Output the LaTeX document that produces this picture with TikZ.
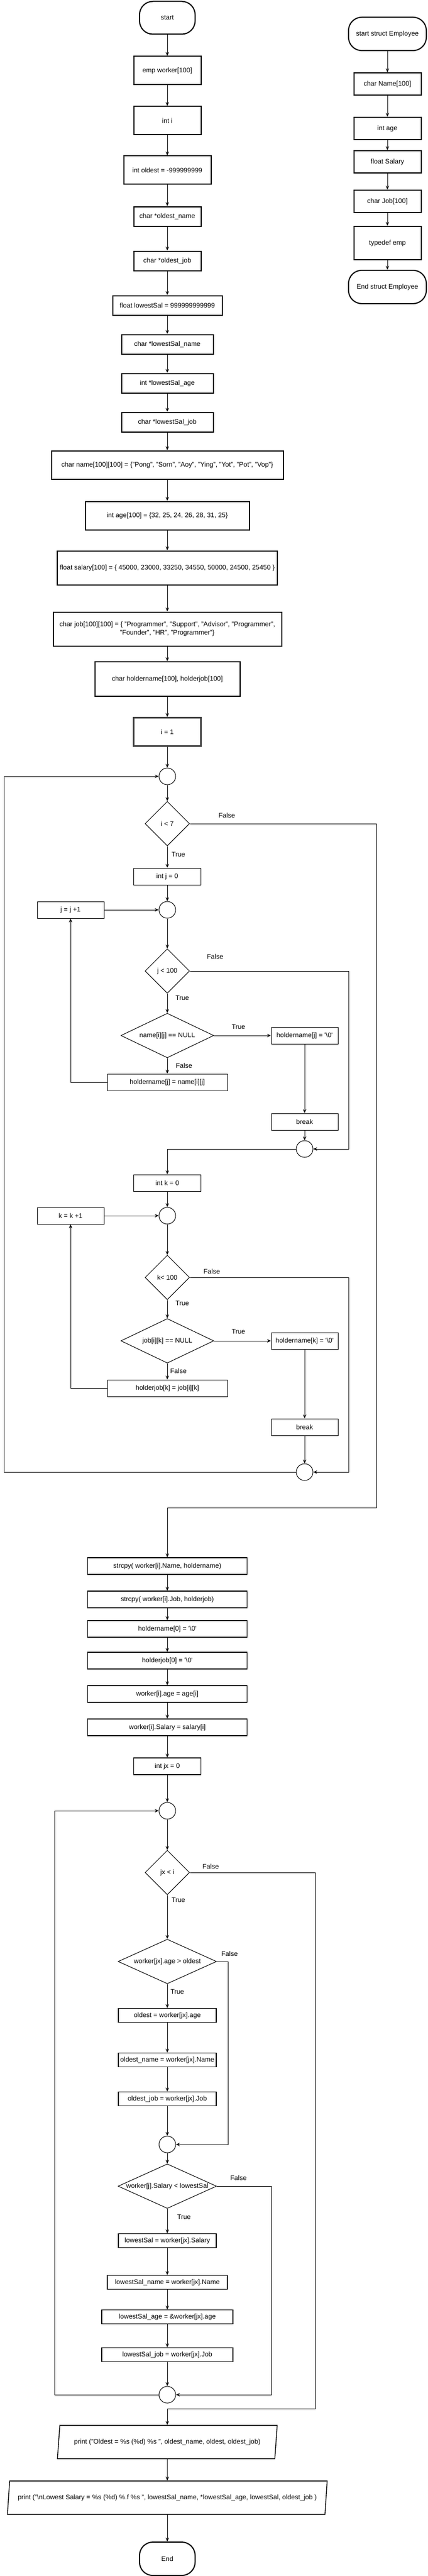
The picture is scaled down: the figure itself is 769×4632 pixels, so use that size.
\documentclass[tikz,border=0pt]{standalone}
\usepackage{fontspec}
\setmainfont{Liberation Sans}
\usetikzlibrary{shapes.geometric,arrows.meta}
\newcommand{\bsl}{\textbackslash}
\newcommand{\sq}{\textquotesingle}

\begin{document}
\begin{tikzpicture}[x=1pt,y=-1pt,font=\fontsize{12}{15}\selectfont,
  box/.style 2 args={draw,rectangle,inner sep=0pt,minimum width=#1,minimum height=#2,line width=1pt},
  heavy/.style={line width=2pt},
  mid/.style={line width=1.4pt},
  term/.style 2 args={draw,rounded corners=24pt,minimum width=#1,minimum height=#2,line width=2pt},
  jn/.style={draw,circle,minimum size=30pt,inner sep=0pt,line width=1pt},
  cond/.style n args={3}{draw,diamond,aspect=#3,inner sep=0pt,minimum width=#1,minimum height=#2,line width=1pt},
  io/.style 2 args={draw,trapezium,trapezium left angle=71.6,trapezium right angle=108.4,trapezium stretches=true,minimum width=#1,minimum height=#2,inner sep=0pt,line width=1.4pt},
  arr/.style={arrows=-{Stealth[length=7pt,width=6pt]},line width=1pt,black},
  lbl/.style={inner sep=0pt}]

\useasboundingbox (0,0) rectangle (769,4632);

% declarations:
\node[term={100pt}{59pt}] (start) at (301,32) {start};
\node[box={121pt}{51pt},heavy] (worker) at (301,127) {emp worker[100]};
\node[box={121pt}{51pt},heavy] (inti) at (301,217) {int i};
\node[box={157pt}{51pt},heavy] (oldest) at (301,306) {int oldest = -999999999};
\node[box={121pt}{35pt},heavy] (oldname) at (301,389) {char *oldest\_name};
\node[box={121pt}{35pt},heavy] (oldjob) at (301,469) {char *oldest\_job};
\node[box={197pt}{35pt},heavy] (lowsal) at (301,549) {float lowestSal = 999999999999};
\node[box={165pt}{35pt},heavy] (lowname) at (301,619) {char *lowestSal\_name};
\node[box={165pt}{35pt},heavy] (lowage) at (301,689) {int *lowestSal\_age};
\node[box={165pt}{35pt},heavy] (lowjob) at (301,759) {char *lowestSal\_job};
\node[box={417pt}{51pt},heavy] (names) at (301,836) {char name[100][100] = \{"Pong", "Sorn", "Aoy", "Ying", "Yot", "Pot", "Vop"\}};
\node[box={295pt}{51pt},heavy] (ages) at (301,927) {int age[100] = \{32, 25, 24, 26, 28, 31, 25\}};
\node[box={396pt}{61pt},heavy] (sals) at (301,1021) {float salary[100] = \{ 45000, 23000, 33250, 34550, 50000, 24500, 25450 \}};
\node[box={411pt}{61pt},heavy,align=center] (jobs) at (301,1131) {char job[100][100] = \{ "Programmer", "Support", "Advisor", "Programmer",\\ "Founder", "HR", "Programmer"\}};
\node[box={261pt}{62pt},heavy] (holder) at (301,1221) {char holdername[100], holderjob[100]};
\node[box={121pt}{51pt},line width=2.6pt,draw=black!75] (iset) at (301,1316) {i = 1};

% struct Employee:
\node[term={140pt}{60pt}] (sstart) at (697,61) {start struct Employee};
\node[box={121pt}{40pt},heavy] (sname) at (697,151) {char Name[100]};
\node[box={121pt}{40pt},heavy] (sage) at (697,231) {int age};
\node[box={121pt}{40pt},heavy] (ssal) at (697,291) {float Salary};
\node[box={121pt}{40pt},heavy] (sjob) at (697,362) {char Job[100]};
\node[box={121pt}{60pt},heavy] (stype) at (697,437) {typedef emp};
\node[term={140pt}{60pt}] (send) at (697,516) {End struct Employee};

% loop over i:
\node[jn] (c1) at (301,1396) {};
\node[cond={80pt}{80pt}{1}] (d1) at (301,1481) {i < 7};
\node[box={121pt}{30pt}] (intj) at (301,1576) {int j = 0};
\node[jn] (c2) at (301,1636) {};
\node[box={120pt}{30pt}] (jinc) at (127,1636) {j = j +1};
\node[cond={80pt}{80pt}{1}] (d2) at (301,1746) {j < 100};
\node[cond={167pt}{80pt}{2.2}] (d3) at (301,1862) {name[i][j] == NULL};
\node[box={120pt}{30pt}] (hn0) at (548,1862) {holdername[j] = \sq\bsl0\sq};
\node[box={216pt}{30pt}] (hnj) at (301,1946) {holdername[j] = name[i][j]};
\node[box={120pt}{30pt}] (brk1) at (548,2017) {break};
\node[jn] (c3) at (548,2066) {};
\node[box={121pt}{30pt}] (intk) at (301,2127) {int k = 0};
\node[jn] (c4) at (301,2186) {};
\node[box={120pt}{30pt}] (kinc) at (127,2186) {k = k +1};
\node[cond={80pt}{80pt}{1}] (d4) at (301,2297) {k< 100};
\node[cond={167pt}{80pt}{2.2}] (d5) at (301,2411) {job[i][k] == NULL};
\node[box={120pt}{30pt}] (hk0) at (548,2411) {holdername[k] = \sq\bsl0\sq};
\node[box={216pt}{30pt}] (hjk) at (301,2496) {holderjob[k] = job[i][k]};
\node[box={120pt}{30pt}] (brk2) at (548,2566) {break};
\node[jn] (c5) at (548,2647) {};

% copy into worker, then search:
\node[box={287pt}{30pt},mid] (cpyn) at (301,2816) {strcpy( worker[i].Name, holdername)};
\node[box={287pt}{30pt},mid] (cpyj) at (301,2876) {strcpy( worker[i].Job, holderjob)};
\node[box={287pt}{30pt},mid] (clrn) at (301,2929) {holdername[0] = \sq\bsl0\sq};
\node[box={287pt}{30pt},mid] (clrj) at (301,2986) {holderjob[0] = \sq\bsl0\sq};
\node[box={287pt}{30pt},mid] (wage) at (301,3046) {worker[i].age = age[i]};
\node[box={287pt}{30pt},mid] (wsal) at (301,3106) {worker[i].Salary = salary[i]};
\node[box={121pt}{30pt},mid] (intjx) at (301,3176) {int jx = 0};
\node[jn] (c6) at (301,3256) {};
\node[cond={80pt}{80pt}{1}] (d6) at (301,3367) {jx < i};
\node[cond={177pt}{80pt}{2.2}] (d7) at (301,3527) {worker[jx].age > oldest};
\node[box={176pt}{25pt},mid] (setold) at (301,3624) {oldest = worker[jx].age};
\node[box={176pt}{25pt},mid] (setoname) at (301,3704) {oldest\_name = worker[jx].Name};
\node[box={176pt}{25pt},mid] (setojob) at (301,3774) {oldest\_job = worker[jx].Job};
\node[jn] (c7) at (301,3856) {};
\node[cond={177pt}{80pt}{2.2}] (d8) at (301,3931) {worker[j].Salary < lowestSal};
\node[box={176pt}{25pt},mid] (setls) at (301,4029) {lowestSal = worker[jx].Salary};
\node[box={216pt}{25pt},mid] (setlname) at (301,4104) {lowestSal\_name = worker[jx].Name};
\node[box={236pt}{25pt},mid] (setlage) at (301,4166) {lowestSal\_age = \&worker[jx].age};
\node[box={236pt}{25pt},mid] (setljob) at (301,4234) {lowestSal\_job = worker[jx].Job};
\node[jn] (c8) at (301,4306) {};
\node[io={396pt}{60pt}] (pr1) at (301,4391) {print ("Oldest = \%s (\%d) \%s ", oldest\_name, oldest, oldest\_job)};
\node[io={576pt}{60pt}] (pr2) at (301,4491) {print ("\bsl nLowest Salary = \%s (\%d) \%.f \%s ", lowestSal\_name, *lowestSal\_age, lowestSal, oldest\_job )};
\node[term={100pt}{60pt}] (fin) at (301,4601) {End};

% labels:
\node[lbl] (f1) at (408,1466) {False};
\node[lbl] (t1) at (321,1536) {True};
\node[lbl] (f2) at (387,1720) {False};
\node[lbl] (t2) at (328,1794) {True};
\node[lbl] (t3) at (429,1846) {True};
\node[lbl] (f3) at (331,1916) {False};
\node[lbl] (f4) at (381,2286) {False};
\node[lbl] (t4) at (328,2343) {True};
\node[lbl] (t5) at (429,2394) {True};
\node[lbl] (f5) at (321,2465) {False};
\node[lbl] (f6) at (379,3356) {False};
\node[lbl] (t6) at (321,3416) {True};
\node[lbl] (f7) at (413,3513) {False};
\node[lbl] (t7) at (319,3581) {True};
\node[lbl] (f8) at (429,3916) {False};
\node[lbl] (t8) at (331,3986) {True};

% connectors:
\draw[arr] (start) -- (worker);
\draw[arr] (worker) -- (inti);
\draw[arr] (inti) -- (oldest);
\draw[arr] (oldest) -- (oldname);
\draw[arr] (oldname) -- (oldjob);
\draw[arr] (oldjob) -- (lowsal);
\draw[arr] (lowsal) -- (lowname);
\draw[arr] (lowname) -- (lowage);
\draw[arr] (lowage) -- (lowjob);
\draw[arr] (lowjob) -- (names);
\draw[arr] (names) -- (ages);
\draw[arr] (ages) -- (sals);
\draw[arr] (sals) -- (jobs);
\draw[arr] (jobs) -- (holder);
\draw[arr] (holder) -- (iset);
\draw[arr] (iset) -- (c1);
\draw[arr] (sstart) -- (sname);
\draw[arr] (sname) -- (sage);
\draw[arr] (sage) -- (ssal);
\draw[arr] (ssal) -- (sjob);
\draw[arr] (sjob) -- (stype);
\draw[arr] (stype) -- (send);

\draw[arr] (c1) -- (d1);
\draw[arr] (d1) -- (intj);
\draw[arr] (intj) -- (c2);
\draw[arr] (jinc) -- (c2);
\draw[arr] (c2) -- (d2);
\draw[arr] (d2) -- (d3);
\draw[arr] (d3) -- (hn0);
\draw[arr] (d3) -- (hnj);
\draw[arr] (hnj) -| (jinc);
\draw[arr] (hn0) -- (brk1);
\draw[arr] (brk1) -- (c3);
\draw[arr] (d2) -- (627,1746) |- (c3);
\draw[arr] (c3) -| (intk);
\draw[arr] (intk) -- (c4);
\draw[arr] (kinc) -- (c4);
\draw[arr] (c4) -- (d4);
\draw[arr] (d4) -- (d5);
\draw[arr] (d5) -- (hk0);
\draw[arr] (d5) -- (hjk);
\draw[arr] (hjk) -| (kinc);
\draw[arr] (hk0) -- (brk2);
\draw[arr] (brk2) -- (c5);
\draw[arr] (d4) -- (627,2297) |- (c5);
\draw[arr] (c5) -- (7,2647) |- (c1);
\draw[arr] (d1) -- (677,1481) |- (301,2711) -- (cpyn);

\draw[arr] (cpyn) -- (cpyj);
\draw[arr] (cpyj) -- (clrn);
\draw[arr] (clrn) -- (clrj);
\draw[arr] (clrj) -- (wage);
\draw[arr] (wage) -- (wsal);
\draw[arr] (wsal) -- (intjx);
\draw[arr] (intjx) -- (c6);
\draw[arr] (c6) -- (d6);
\draw[arr] (d6) -- (d7);
\draw[arr] (d7) -- (setold);
\draw[arr] (setold) -- (setoname);
\draw[arr] (setoname) -- (setojob);
\draw[arr] (setojob) -- (c7);
\draw[arr] (d7) -- (410,3527) |- (c7);
\draw[arr] (c7) -- (d8);
\draw[arr] (d8) -- (setls);
\draw[arr] (setls) -- (setlname);
\draw[arr] (setlname) -- (setlage);
\draw[arr] (setlage) -- (setljob);
\draw[arr] (setljob) -- (c8);
\draw[arr] (d8) -- (488,3931) |- (c8);
\draw[arr] (c8) -- (98,4306) |- (c6);
\draw[arr] (d6) -- (567,3367) |- (301,4331) -- (pr1);
\draw[arr] (pr1) -- (pr2);
\draw[arr] (pr2) -- (fin);

\end{tikzpicture}
\end{document}
